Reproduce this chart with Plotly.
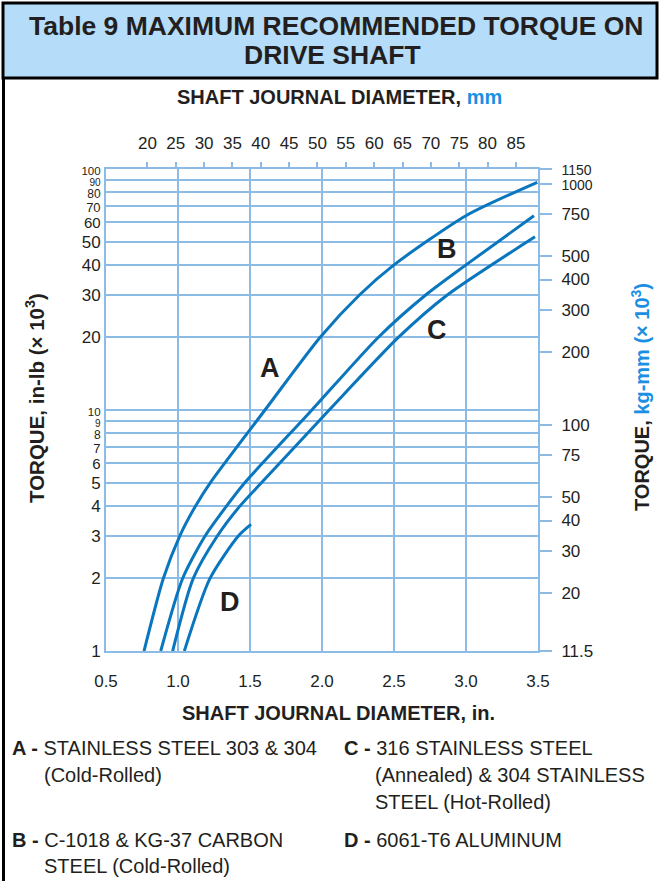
import math

import plotly.graph_objects as go

# --- data (diameter in inches, torque in in-lb x 10^3) ---
DIA_A = [0.764, 0.898, 1.012, 1.122, 1.225, 1.604, 1.986, 2.26, 2.5, 3.0, 3.495]
TQ_A = [1, 2, 3, 4, 5, 10, 20, 30, 40, 64, 88]

DIA_B = [0.880, 1.032, 1.188, 1.338, 1.465, 1.93, 2.39, 2.72, 3.0, 3.472]
TQ_B = [1, 2, 3, 4, 5, 10, 20, 30, 40, 64]

DIA_C = [0.963, 1.106, 1.273, 1.431, 1.581, 2.05, 2.53, 2.87, 3.479]
TQ_C = [1, 2, 3, 4, 5, 10, 20, 30, 52.3]

DIA_D = [1.044, 1.222, 1.419, 1.507]
TQ_D = [1, 2, 3, 3.35]

CURVES = {"A": (DIA_A, TQ_A), "B": (DIA_B, TQ_B), "C": (DIA_C, TQ_C), "D": (DIA_D, TQ_D)}

# label positions (in, in-lb)
LABEL_POS = {"A": (1.639, 14.9), "B": (2.865, 46.6), "C": (2.802, 21.4), "D": (1.358, 1.6)}

X_TICKS_IN = [0.5, 1.0, 1.5, 2.0, 2.5, 3.0, 3.5]
Y_TICKS_INLB = [1, 2, 3, 4, 5, 6, 7, 8, 9, 10, 20, 30, 40, 50, 60, 70, 80, 90, 100]
MM_TICKS = [20, 25, 30, 35, 40, 45, 50, 55, 60, 65, 70, 75, 80, 85]
KGMM_TICKS = [11.5, 20, 30, 40, 50, 75, 100, 200, 300, 400, 500, 750, 1000, 1150]

IN_TO_MM = 25.4
INLB_TO_KGMM = 11.5

LEGEND_LINES = [
    (10, 748, "<b>A -</b> STAINLESS STEEL 303 & 304"),
    (42, 775, "(Cold-Rolled)"),
    (10, 840, "<b>B -</b> C-1018 & KG-37 CARBON"),
    (42, 866, "STEEL (Cold-Rolled)"),
    (342, 748, "<b>C -</b> 316 STAINLESS STEEL"),
    (373, 775, "(Annealed) & 304 STAINLESS"),
    (373, 802, "STEEL (Hot-Rolled)"),
    (342, 840, "<b>D -</b> 6061-T6 ALUMINUM"),
]

W, H = 660, 881
L, R, T, B = 106, 122, 169, 230
FONT = "Arial, Liberation Sans, Helvetica, sans-serif"
GRID = "#8cbbe6"
CURVE = "#0a76bd"
ACCENT = "#1a8fe3"
INK = "#231f20"

# the log decades bunch up near the top, so the upper labels get smaller
MANTISSA_SIZE = {1: 17, 2: 17, 3: 17, 4: 17, 5: 17, 6: 15, 7: 13, 8: 12, 9: 10}


def ylabel(v):
    m = round(v / 10 ** math.floor(math.log10(v) + 1e-9))
    size = MANTISSA_SIZE.get(m, 17)
    if v in (10, 100):
        size = 11.5
    return f"<span style='font-size:{size}px'>{v:g}</span>"


def px(x):
    return (x - L) / (W - L - R)


def py(y):
    return (H - B - y) / (H - T - B)


fig = go.Figure()
for name, (xs, ys) in CURVES.items():
    fig.add_trace(go.Scatter(
        x=xs, y=ys, mode="lines", name=name,
        line=dict(color=CURVE, width=3, shape="spline", smoothing=0.7),
        showlegend=False, hoverinfo="skip",
    ))

# same curve in metric units, transparent: it puts the mm / kg-mm axes on the page
fig.add_trace(go.Scatter(
    x=[d * IN_TO_MM for d in DIA_A], y=[t * INLB_TO_KGMM for t in TQ_A],
    xaxis="x2", yaxis="y2", mode="lines", line=dict(width=0, color="rgba(0,0,0,0)"),
    showlegend=False, hoverinfo="skip",
))

annotations = []
for name, (lx, ly) in LABEL_POS.items():
    annotations.append(dict(x=lx, y=math.log10(ly), xref="x", yref="y", text=f"<b>{name}</b>",
                            showarrow=False, font=dict(size=27, color=INK, family=FONT)))


def ann(x, y, text, size, xanchor="center", angle=0):
    annotations.append(dict(x=px(x), y=py(y), xref="paper", yref="paper", text=text,
                            showarrow=False, xanchor=xanchor, yanchor="middle", textangle=angle,
                            font=dict(size=size, color=INK, family=FONT)))


ann(336, 26, "<b>Table 9 MAXIMUM RECOMMENDED TORQUE ON</b>", 26.5)
ann(332, 55, "<b>DRIVE SHAFT</b>", 26.5)
ann(339, 97, f"<b>SHAFT JOURNAL DIAMETER, <span style='color:{ACCENT}'>mm</span></b>", 20)
ann(338, 713, "<b>SHAFT JOURNAL DIAMETER, in.</b>", 20)
ann(35, 398, "<b>TORQUE, in-lb (× 10<sup>3</sup>)</b>", 20.5, angle=-90)
ann(640, 397, f"<b>TORQUE, <span style='color:{ACCENT}'>kg-mm (× 10<sup>3</sup>)</span></b>", 20, angle=-90)
for lx, ly, txt in LEGEND_LINES:
    ann(lx, ly, txt, 20, xanchor="left")

shapes = [
    dict(type="rect", xref="paper", yref="paper", x0=px(3), x1=px(657), y0=py(3), y1=py(78),
         fillcolor="#b5dcf8", line=dict(color="black", width=3), layer="below"),
    dict(type="line", xref="paper", yref="paper", x0=px(3.5), x1=px(3.5), y0=py(78), y1=py(H),
         line=dict(color="black", width=3)),
]

tickfont = dict(size=17, color=INK, family=FONT)
fig.update_layout(
    width=W, height=H,
    margin=dict(l=L, r=R, t=T, b=B, pad=0),
    paper_bgcolor="white", plot_bgcolor="white",
    xaxis=dict(range=[0.5, 3.5], tickvals=X_TICKS_IN, ticktext=[f"{v:.1f}" for v in X_TICKS_IN],
               showgrid=True, gridcolor=GRID, gridwidth=2, zeroline=False,
               showline=True, linecolor=GRID, linewidth=2, mirror=True,
               ticks="", tickfont=tickfont, ticklabelstandoff=14),
    yaxis=dict(type="log", range=[0, 2], tickvals=Y_TICKS_INLB, ticktext=[ylabel(v) for v in Y_TICKS_INLB],
               showgrid=True, gridcolor=GRID, gridwidth=2, zeroline=False,
               showline=True, linecolor=GRID, linewidth=2, mirror=True,
               ticks="", tickfont=tickfont, ticklabelstandoff=0),
    xaxis2=dict(overlaying="x", side="top", range=[0.5 * IN_TO_MM, 3.5 * IN_TO_MM],
                tickvals=MM_TICKS, showgrid=False, zeroline=False, showline=False,
                ticks="outside", ticklen=6, tickwidth=2, tickcolor=GRID,
                tickfont=tickfont, ticklabelstandoff=6),
    yaxis2=dict(overlaying="y", side="right", type="log",
                range=[math.log10(INLB_TO_KGMM) - 1e-6, math.log10(100 * INLB_TO_KGMM) + 1e-6],
                tickvals=KGMM_TICKS,
                ticktext=[f"<span style='font-size:{14 if v >= 1000 else 17}px'>{v:g}</span>" for v in KGMM_TICKS],
                showgrid=False, zeroline=False, showline=False,
                ticks="outside", ticklen=13, tickwidth=2, tickcolor=GRID,
                tickfont=tickfont, ticklabelstandoff=6),
    annotations=annotations,
    shapes=shapes,
)

fig.write_html("out.html", config={"displayModeBar": False},
               post_script="document.body.style.margin = '0';")
